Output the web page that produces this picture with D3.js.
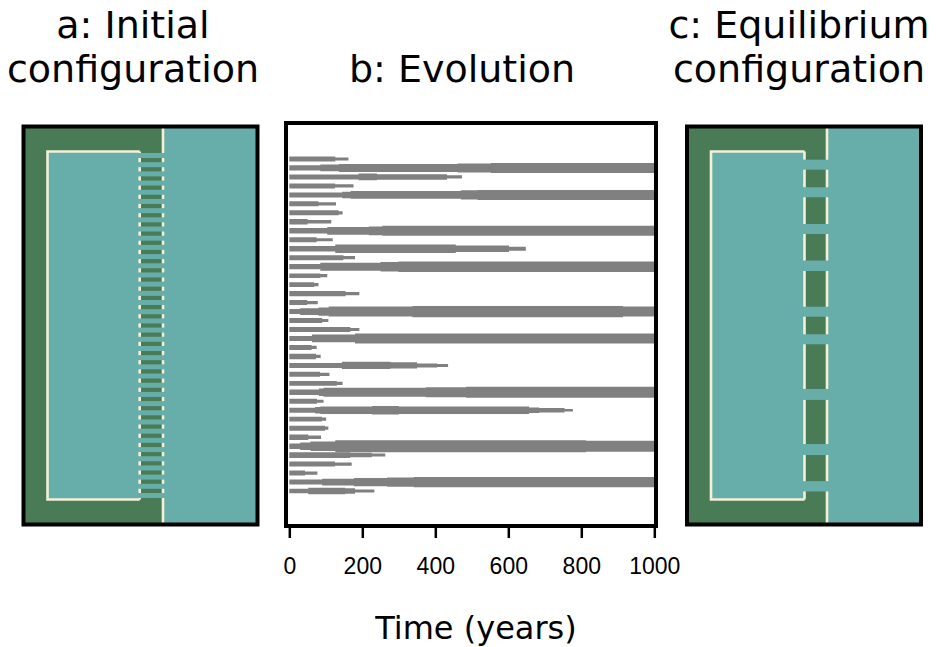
<!DOCTYPE html>
<html>
<head>
<meta charset="utf-8">
<script src="https://cdn.jsdelivr.net/npm/d3@7"></script>
<style>
  body { margin: 0; background: #fff; }
  svg { display: block; }
  .title { font-family: "DejaVu Sans", sans-serif; font-size: 38px; fill: #000; }
  .tick text { font-family: "Liberation Sans", Arial, sans-serif; font-size: 23px; fill: #000; }
</style>
</head>
<body>
<div id="chart-area"></div>
<script>
// tick labels of the time axis (years)
const years = [0, 200, 400, 600, 800, 1000]

// year in which each tidal channel closes (1000 = still open at the end)
const channelEnd = [162, 1000, 473, 176, 1000, 128, 146, 115, 1000, 119,
  648, 180, 1000, 104, 80, 192, 78, 1000, 107, 192,
  1000, 75, 86, 435, 110, 146, 1000, 94, 777, 101,
  107, 87, 1000, 263, 171, 77, 1000, 233]

// channel width (m) as [year it starts, width]
const widthSteps = [
  [[0, 50], [126, 30]],
  [[0, 53], [85, 67], [136, 80], [461, 90], [552, 100]],
  [[0, 50], [190, 68], [240, 55], [432, 32]],
  [[0, 50], [125, 32]],
  [[0, 50], [145, 65], [168, 77], [470, 93], [516, 100]],
  [[0, 50], [80, 32]],
  [[0, 50], [135, 32]],
  [[0, 55], [50, 35]],
  [[0, 55], [104, 78], [218, 88], [255, 100]],
  [[0, 50], [75, 32]],
  [[0, 55], [126, 85], [456, 65], [602, 40]],
  [[0, 50], [148, 32]],
  [[0, 53], [85, 80], [250, 95], [299, 105]],
  [[0, 45], [85, 32]],
  [[0, 48], [68, 32]],
  [[0, 52], [154, 32]],
  [[0, 50], [49, 32]],
  [[0, 50], [30, 67], [80, 83], [108, 100], [337, 113], [914, 100]],
  [[0, 50], [90, 32]],
  [[0, 50], [167, 32]],
  [[0, 50], [62, 77], [180, 100]],
  [[0, 50], [61, 32]],
  [[0, 55], [73, 32]],
  [[0, 50], [144, 73], [277, 63], [350, 40], [405, 30]],
  [[0, 50], [84, 32]],
  [[0, 48], [130, 32]],
  [[0, 55], [81, 75], [94, 90], [374, 100], [484, 110]],
  [[0, 52], [76, 32]],
  [[0, 50], [71, 65], [85, 77], [227, 87], [300, 77], [657, 55], [685, 43], [754, 25]],
  [[0, 48], [89, 32]],
  [[0, 50], [98, 32]],
  [[0, 55], [52, 35]],
  [[0, 55], [30, 75], [58, 95], [126, 120], [813, 110]],
  [[0, 58], [167, 45], [226, 30]],
  [[0, 50], [125, 32]],
  [[0, 50], [43, 32]],
  [[0, 50], [90, 67], [177, 83], [268, 93], [341, 103]],
  [[0, 45], [52, 65], [153, 55], [180, 30]]
]

// width of every channel at the start (m)
const initialWidth = 50

const GREEN = "#4a7b57"
const TEAL = "#67aeaa"
const CREAM = "#f4f0d6"
const BAR = "#808080"

const svg = d3.select("#chart-area").append("svg")
  .attr("width", 936)
  .attr("height", 647)

const idx = d3.range(channelEnd.length)

// channel widths to pixels, shared by the three panels
const w = d3.scaleLinear().domain([0, 100]).range([0, 10])

// channel position along the barrier (maps)
const yMap = d3.scaleLinear().domain([0, idx.length - 1]).range([155.5, 495.5])

// ---------- maps (a and c) ----------
function drawMap(left, barrierL, oceanX, channels) {
  const g = svg.append("g")
  const top = 126.5, height = 398, width = 234
  const lagT = 151.5, lagB = 499.5, lagL = left + 24

  g.append("rect")
    .attr("x", left).attr("y", top)
    .attr("width", width).attr("height", height)
    .attr("fill", GREEN)

  g.append("rect")
    .attr("x", oceanX).attr("y", top)
    .attr("width", left + width - oceanX).attr("height", height)
    .attr("fill", TEAL)

  g.append("rect")
    .attr("x", lagL).attr("y", lagT)
    .attr("width", barrierL - lagL).attr("height", lagB - lagT)
    .attr("fill", TEAL)

  // shorelines
  g.append("path")
    .attr("d", `M${barrierL},${lagT}H${lagL}V${lagB}H${barrierL}`)
    .attr("fill", "none").attr("stroke", CREAM).attr("stroke-width", 2.6)
  g.append("line")
    .attr("x1", barrierL).attr("x2", barrierL)
    .attr("y1", lagT).attr("y2", lagB)
    .attr("stroke", CREAM).attr("stroke-width", 2.6)
  g.append("line")
    .attr("x1", oceanX).attr("x2", oceanX)
    .attr("y1", top).attr("y2", top + height)
    .attr("stroke", CREAM).attr("stroke-width", 2.6)

  // channels through the barrier
  g.selectAll("rect.channel")
    .data(channels)
    .enter().append("rect")
    .attr("class", "channel")
    .attr("x", barrierL - 2)
    .attr("width", oceanX - barrierL + 4)
    .attr("y", d => yMap(d.i) - w(d.width) / 2)
    .attr("height", d => w(d.width))
    .attr("fill", TEAL)

  g.append("rect")
    .attr("x", left).attr("y", top)
    .attr("width", width).attr("height", height)
    .attr("fill", "none").attr("stroke", "#000").attr("stroke-width", 4)
}

drawMap(23.5, 139.7, 163, idx.map(i => ({ i: i, width: initialWidth })))

const survivors = idx.filter(i => channelEnd[i] >= 1000)
  .map(i => ({ i: i, width: widthSteps[i][widthSteps[i].length - 1][1] }))
drawMap(687, 804.5, 827, survivors)

// ---------- evolution (b) ----------
const x = d3.scaleLinear().domain([0, 1000]).range([289.3, 654.3])
const yBar = d3.scaleLinear().domain([0, idx.length - 1]).range([159, 491])

const gb = svg.append("g")

const area = d3.area()
  .curve(d3.curveStepAfter)
  .x(d => x(d.t))
  .y0(d => yBar(d.i) - w(d.width) / 2)
  .y1(d => yBar(d.i) + w(d.width) / 2)

gb.selectAll("path.bar")
  .data(idx)
  .enter().append("path")
  .attr("class", "bar")
  .attr("fill", BAR)
  .attr("d", i => {
    const pts = widthSteps[i].map(s => ({ i: i, t: s[0], width: s[1] }))
    const last = widthSteps[i][widthSteps[i].length - 1]
    pts.push({ i: i, t: channelEnd[i], width: last[1] })
    return area(pts)
  })

gb.append("rect")
  .attr("x", 286).attr("y", 123)
  .attr("width", 370).attr("height", 403)
  .attr("fill", "none").attr("stroke", "#000").attr("stroke-width", 4)

const xAxis = gb.append("g")
  .attr("transform", "translate(0, 528)")
  .call(d3.axisBottom(x).tickValues(years).tickSize(10).tickFormat(d => d))
xAxis.select(".domain").remove()
xAxis.selectAll(".tick line").attr("stroke", "#000").attr("stroke-width", 2.5)
xAxis.selectAll(".tick text").attr("y", 46).attr("dy", 0)

// ---------- titles ----------
const titles = [
  { x: 133, lines: ["a: Initial", "configuration"] },
  { x: 462, lines: ["", "b: Evolution"] },
  { x: 799, lines: ["c: Equilibrium", "configuration"] }
]
titles.forEach(t => {
  t.lines.forEach((s, k) => {
    svg.append("text")
      .attr("class", "title")
      .attr("x", t.x)
      .attr("y", 38 + k * 44)
      .attr("text-anchor", "middle")
      .text(s)
  })
})

svg.append("text")
  .attr("class", "title")
  .attr("x", 476)
  .attr("y", 639)
  .attr("font-size", "32px")
  .style("font-size", "32px")
  .attr("text-anchor", "middle")
  .text("Time (years)")
</script>
</body>
</html>
